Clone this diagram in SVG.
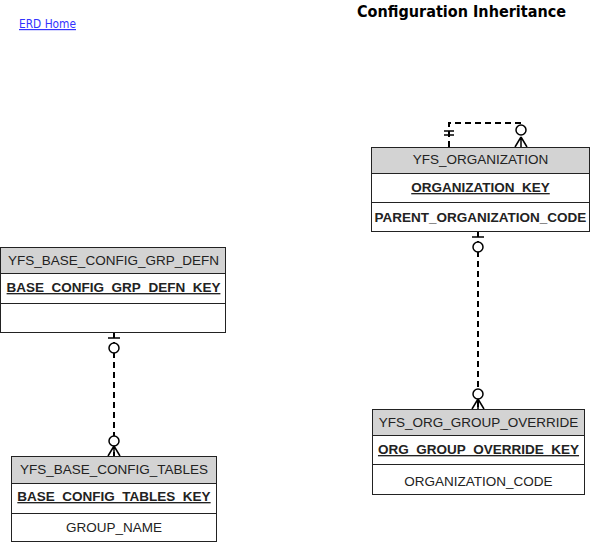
<svg xmlns="http://www.w3.org/2000/svg" width="598" height="543" viewBox="0 0 598 543">
<style>
.box{fill:#fff;stroke:#222;stroke-width:1}
.hdr{fill:#d3d3d3;stroke:#222;stroke-width:1}
.sep{stroke:#222;stroke-width:1}
.t{font-family:"Liberation Sans",Arial,sans-serif;font-size:13.5px;fill:#222;text-anchor:middle}
.k{font-weight:bold;text-decoration:underline}
.b{font-weight:bold}
.conn{fill:none;stroke:#000;stroke-width:2;stroke-dasharray:6 4}
.sym{fill:none;stroke:#000;stroke-width:1.5}
.circ{fill:#fff;stroke:#000;stroke-width:1.5}
</style>
<text x="19" y="28" font-family="Tahoma,'DejaVu Sans',Verdana,sans-serif" font-size="12" fill="#3333ff" text-decoration="underline" textLength="57" lengthAdjust="spacingAndGlyphs">ERD Home</text>
<text x="357" y="17" font-family="Tahoma,'DejaVu Sans',Verdana,sans-serif" font-size="16" font-weight="bold" fill="#000" textLength="209" lengthAdjust="spacingAndGlyphs">Configuration Inheritance</text>

<g id="connectors">
  <path class="conn" d="M449 147 V123 H521 V137"/>
  <path class="sym" d="M444 131 H454 M444 135 H454"/>
  <circle class="circ" cx="521" cy="130" r="5"/>
  <path class="sym" d="M521 137 L515 147 M521 137 V147 M521 137 L527 147"/>
  <path class="conn" d="M478 231 V409"/>
  <path class="sym" d="M472 237 H484"/>
  <circle class="circ" cx="478" cy="247" r="5"/>
  <circle class="circ" cx="478" cy="394" r="5"/>
  <path class="sym" d="M478 399 L472 409 M478 399 V409 M478 399 L484 409"/>
  <path class="conn" d="M114 332 V456"/>
  <path class="sym" d="M108 338 H120"/>
  <circle class="circ" cx="114" cy="348" r="5"/>
  <circle class="circ" cx="114" cy="441" r="5"/>
  <path class="sym" d="M114 446 L108 456 M114 446 V456 M114 446 L120 456"/>
</g>

<g id="YFS_ORGANIZATION">
  <rect class="box" x="371.5" y="147.5" width="218" height="84"/>
  <rect class="hdr" x="371.5" y="147.5" width="218" height="26"/>
  <line class="sep" x1="371.5" y1="202.5" x2="589.5" y2="202.5"/>
  <text class="t" x="480.5" y="164">YFS_ORGANIZATION</text>
  <text class="t k" x="480.5" y="192">ORGANIZATION_KEY</text>
  <text class="t b" x="480.5" y="222">PARENT_ORGANIZATION_CODE</text>
</g>

<g id="YFS_ORG_GROUP_OVERRIDE">
  <rect class="box" x="372.5" y="409.5" width="212" height="85"/>
  <rect class="hdr" x="372.5" y="409.5" width="212" height="26"/>
  <line class="sep" x1="372.5" y1="464.5" x2="584.5" y2="464.5"/>
  <text class="t" x="478.5" y="427">YFS_ORG_GROUP_OVERRIDE</text>
  <text class="t k" x="478.5" y="454">ORG_GROUP_OVERRIDE_KEY</text>
  <text class="t" x="478.5" y="486">ORGANIZATION_CODE</text>
</g>

<g id="YFS_BASE_CONFIG_GRP_DEFN">
  <rect class="box" x="0.5" y="247.5" width="225" height="85"/>
  <rect class="hdr" x="0.5" y="247.5" width="225" height="26"/>
  <line class="sep" x1="0.5" y1="303.5" x2="225.5" y2="303.5"/>
  <text class="t" x="113.5" y="265">YFS_BASE_CONFIG_GRP_DEFN</text>
  <text class="t k" x="113.5" y="292">BASE_CONFIG_GRP_DEFN_KEY</text>
</g>

<g id="YFS_BASE_CONFIG_TABLES">
  <rect class="box" x="11.5" y="456.5" width="205" height="85"/>
  <rect class="hdr" x="11.5" y="456.5" width="205" height="27"/>
  <line class="sep" x1="11.5" y1="513.5" x2="216.5" y2="513.5"/>
  <text class="t" x="114" y="474">YFS_BASE_CONFIG_TABLES</text>
  <text class="t k" x="114" y="501">BASE_CONFIG_TABLES_KEY</text>
  <text class="t" x="114" y="532">GROUP_NAME</text>
</g>
</svg>
